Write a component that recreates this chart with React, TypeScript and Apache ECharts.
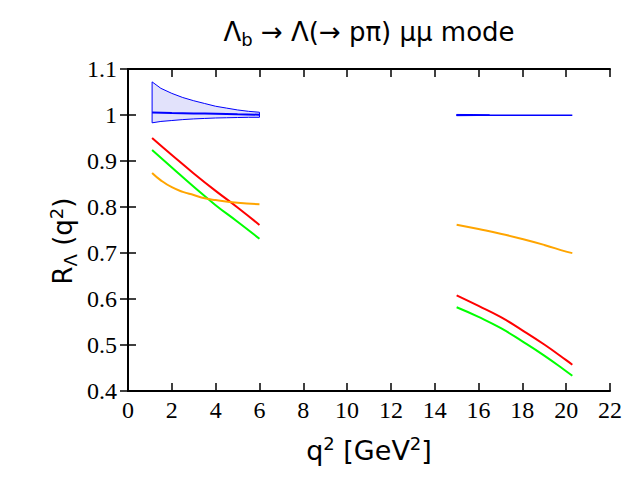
import React, { useEffect, useRef } from "react";
import * as echarts from "echarts";

// ---- data ----
const leftQ = [1.1, 2, 3, 4, 5, 6];
const redLeft = [0.95, 0.913, 0.873, 0.835, 0.799, 0.761];
const greenLeft = [0.924, 0.886, 0.844, 0.804, 0.768, 0.731];
const orangeLeftQ = [1.1, 1.5, 2, 2.5, 3, 3.5, 4, 5, 6];
const orangeLeft = [0.874, 0.858, 0.843, 0.833, 0.826, 0.819, 0.815, 0.809, 0.806];

const rightQ = [15, 16, 17, 18, 19, 20, 20.28];
const redRight = [0.608, 0.585, 0.561, 0.532, 0.501, 0.467, 0.457];
const greenRight = [0.582, 0.561, 0.537, 0.508, 0.477, 0.443, 0.433];
const orangeRight = [0.7615, 0.752, 0.742, 0.7305, 0.7175, 0.703, 0.6997];

const bandLeftQ = [1.1, 1.5, 2, 2.5, 3, 3.5, 4, 4.5, 5, 5.5, 6];
const bandLeftUpper = [1.072, 1.058, 1.047, 1.038, 1.031, 1.025, 1.019, 1.015, 1.011, 1.008, 1.006];
const bandLeftLower = [0.983, 0.986, 0.988, 0.99, 0.9915, 0.9925, 0.9935, 0.994, 0.9945, 0.995, 0.995];
const centerLeftQ = [1.1, 2, 3, 4, 5, 6];
const centerLeft = [1.0056, 1.0045, 1.0035, 1.0025, 1.0015, 1.0006];

const bandRightQ = [15, 15.75, 16.5];
const bandRightUpper = [1.0012, 1.001, 1.0003];
const bandRightLower = [0.9985, 0.9988, 0.9993];
const centerRight = [0.9995, 0.9995, 0.9995, 0.9994, 0.9994, 0.9994, 0.9994];

const xTicks = { min: 0, max: 22, interval: 2 };
const yTicks = { min: 0.4, max: 1.1, interval: 0.1 };

const zip = (xs: number[], ys: number[]) => xs.map((x, i) => [x, ys[i]]);

const BLUE = "#0000ff";
const SERIF = "Liberation Serif";
const SANS = "DejaVu Sans";

export default function App() {
  const ref = useRef<HTMLDivElement>(null);
  useEffect(() => {
    if (!ref.current) return;
    const chart = echarts.init(ref.current, undefined, { renderer: "svg" });
    const axisCommon = {
      axisLine: { show: true, lineStyle: { color: "#000", width: 2 } },
      axisTick: { show: true, inside: true, length: 8, lineStyle: { color: "#000", width: 1.5 } },
      splitLine: { show: false },
    };
    const labelFont = { fontFamily: SERIF, fontSize: 24, color: "#000" };
    const yNameRich = {
      sup: { fontFamily: SANS, fontSize: 18, verticalAlign: "top", lineHeight: 32, fill: "#000" },
      sub: { fontFamily: SANS, fontSize: 18, verticalAlign: "bottom", lineHeight: 32, fill: "#000" },
      n: { fontFamily: SANS, fontSize: 26, verticalAlign: "middle", lineHeight: 32, fill: "#000" },
    };
    const line = (name: string, data: number[][], color: string, width = 2, extra: any = {}) => ({
      name,
      type: "line",
      data,
      symbol: "none",
      smooth: true,
      lineStyle: { color, width },
      itemStyle: { color },
      z: 3,
      ...extra,
    });
    const band = (name: string, qs: number[], up: number[], lo: number[]) => ({
      name,
      type: "custom",
      coordinateSystem: "cartesian2d",
      data: [[qs[0], up[0]]],
      z: 2,
      silent: true,
      renderItem: (_params: any, api: any) => {
        const pts: number[][] = [];
        for (let i = 0; i < qs.length; i++) pts.push(api.coord([qs[i], up[i]]));
        for (let i = qs.length - 1; i >= 0; i--) pts.push(api.coord([qs[i], lo[i]]));
        return {
          type: "polygon",
          shape: { points: pts },
          style: { fill: "#e2e2fb", stroke: BLUE, lineWidth: 1 },
        };
      },
    });
    chart.setOption({
      animation: false,
      grid: { left: 128, right: 30, top: 69, bottom: 89, containLabel: false },
      graphic: [
        {
          type: "text",
          x: 369,
          y: 32,
          style: {
            text: "{n|Λ}{s|b}{n| → Λ(→ pπ) μμ mode}",
            align: "center",
            verticalAlign: "middle",
            rich: {
              n: { fontFamily: SANS, fontSize: 26, verticalAlign: "middle", lineHeight: 32, fill: "#000" },
              s: { fontFamily: SANS, fontSize: 18, verticalAlign: "bottom", lineHeight: 32, fill: "#000" },
            },
          },
        },
        {
          type: "text",
          x: 63,
          y: 241,
          rotation: Math.PI / 2,
          style: {
            text: "{n|R}{sub|Λ}{n| (q}{sup|2}{n|)}",
            align: "center",
            verticalAlign: "middle",
            rich: yNameRich,
          },
        },
      ],
      xAxis: [
        {
          type: "value",
          position: "bottom",
          ...xTicks,
          ...axisCommon,
          axisLabel: { ...labelFont, margin: 7 },
          name: "{n|q}{sup|2}{n| [GeV}{sup|2}{n|]}",
          nameLocation: "middle",
          nameGap: 43,
          nameTextStyle: {
            rich: {
              sup: { fontFamily: SANS, fontSize: 18, verticalAlign: "top", lineHeight: 32, color: "#000" },
              n: { fontFamily: SANS, fontSize: 27, verticalAlign: "middle", lineHeight: 32, color: "#000" },
            },
          },
        },
        {
          type: "value",
          position: "top",
          ...xTicks,
          ...axisCommon,
          axisLabel: { show: false },
        },
      ],
      yAxis: [
        {
          type: "value",
          position: "left",
          ...yTicks,
          ...axisCommon,
          axisLabel: { ...labelFont, margin: 11 },
        },
        {
          type: "value",
          position: "right",
          ...yTicks,
          ...axisCommon,
          axisLabel: { show: false },
        },
      ],
      series: [
        band("bandL", bandLeftQ, bandLeftUpper, bandLeftLower),
        line("centerL", zip(centerLeftQ, centerLeft), BLUE, 2),
        band("bandR", bandRightQ, bandRightUpper, bandRightLower),
        line("centerR", zip(rightQ, centerRight), BLUE, 1.5),
        line("redL", zip(leftQ, redLeft), "#ff0000"),
        line("greenL", zip(leftQ, greenLeft), "#00ff00"),
        line("orangeL", zip(orangeLeftQ, orangeLeft), "#ffa500"),
        line("redR", zip(rightQ, redRight), "#ff0000"),
        line("greenR", zip(rightQ, greenRight), "#00ff00"),
        line("orangeR", zip(rightQ, orangeRight), "#ffa500"),
      ],
    });
    return () => chart.dispose();
  }, []);
  return (
    <div
      ref={ref}
      style={{ position: "fixed", left: 0, top: 0, width: 640, height: 480, background: "#fff" }}
    />
  );
}
